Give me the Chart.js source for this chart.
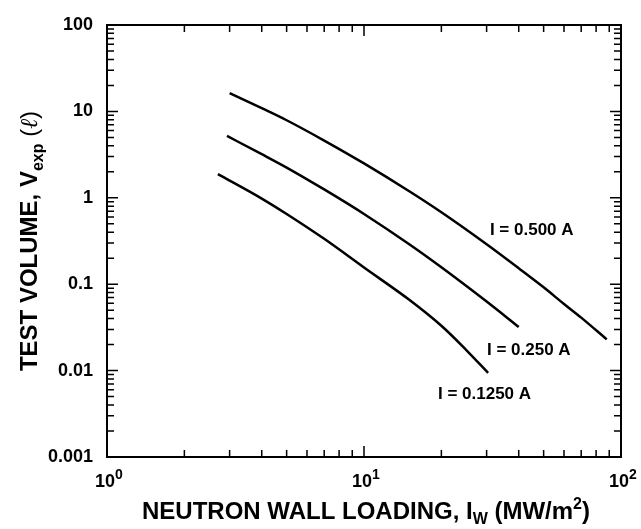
<!DOCTYPE html>
<html>
<head>
<meta charset="utf-8">
<script src="https://cdn.jsdelivr.net/npm/chart.js@4.4.1/dist/chart.umd.min.js"></script>
<style>
  html, body { margin: 0; padding: 0; background: #fff; }
  canvas { display: block; }
</style>
</head>
<body>
<canvas id="chart" width="641" height="529"></canvas>
<script>
// neutron wall loading (MW/m2) vs. test volume (litres), one curve per beam current
const currents = ['I = 0.500 A', 'I = 0.250 A', 'I = 0.1250 A'];

const loading500 = [3, 4, 5, 7, 10, 15, 20, 30, 40, 50, 60, 70, 88];
const volume500 = [16.3, 10.9, 7.9, 4.6, 2.5, 1.19, 0.68, 0.29, 0.153, 0.092, 0.059, 0.041, 0.023];

const loading250 = [2.93, 4, 5, 7, 10, 15, 20, 30, 40];
const volume250 = [5.2, 3.2, 2.24, 1.25, 0.65, 0.29, 0.157, 0.063, 0.032];

const loading125 = [2.7, 4, 5, 7, 10, 15, 20, 25, 30.4];
const volume125 = [1.88, 0.98, 0.65, 0.335, 0.156, 0.066, 0.033, 0.0173, 0.0094];

const xDecades = [0, 1, 2];
const yDecades = [-3, -2, -1, 0, 1, 2];
const yTickLabels = ['0.001', '0.01', '0.1', '1', '10', '100'];

// where each curve's current label sits, in data units (left edge, baseline)
const labelAt = [
    { x: 30.9, y: 0.37 },
    { x: 30.1, y: 0.0152 },
    { x: 19.4, y: 0.0047 }
];

const FONT = '"Liberation Sans", Arial, Helvetica, sans-serif';

function decadeTicks(decades) {
    let ticks = [];
    for (let i = 0; i < decades.length; i++) {
        let base = Math.pow(10, decades[i]);
        let last = i === decades.length - 1 ? 1 : 9;
        for (let m = 1; m <= last; m++) {
            ticks.push({ value: m * base, major: m === 1, decade: i });
        }
    }
    return ticks;
}

function pairs(xs, ys) {
    return xs.map((x, i) => ({ x: x, y: ys[i] }));
}

// draws text made of pieces (normal / sub / sup), left to right from x
function drawPieces(ctx, pieces, x, y) {
    pieces.forEach(p => {
        ctx.font = p.font;
        ctx.fillText(p.text, x, y + (p.dy || 0));
        x += ctx.measureText(p.text).width;
    });
}

function piecesWidth(ctx, pieces) {
    let w = 0;
    pieces.forEach(p => {
        ctx.font = p.font;
        w += ctx.measureText(p.text).width;
    });
    return w;
}

const axesPlugin = {
    id: 'axesPlugin',
    afterDatasetsDraw(chart) {
        const ctx = chart.ctx;
        const area = chart.chartArea;
        const xs = chart.scales.x;
        const ys = chart.scales.y;

        ctx.save();
        ctx.strokeStyle = '#000';
        ctx.fillStyle = '#000';

        // frame
        ctx.lineWidth = 2;
        ctx.strokeRect(area.left, area.top, area.right - area.left, area.bottom - area.top);

        // inward ticks on all four sides
        ctx.lineWidth = 1.5;
        ctx.beginPath();
        xs.ticks.forEach(t => {
            const px = xs.getPixelForValue(t.value);
            const len = t.major ? 11 : 7;
            ctx.moveTo(px, area.bottom);
            ctx.lineTo(px, area.bottom - len);
            ctx.moveTo(px, area.top);
            ctx.lineTo(px, area.top + len);
        });
        ys.ticks.forEach(t => {
            const py = ys.getPixelForValue(t.value);
            const len = t.major ? 11 : 7;
            ctx.moveTo(area.left, py);
            ctx.lineTo(area.left + len, py);
            ctx.moveTo(area.right, py);
            ctx.lineTo(area.right - len, py);
        });
        ctx.stroke();

        // x tick labels as powers of ten
        ctx.textAlign = 'left';
        ctx.textBaseline = 'alphabetic';
        xDecades.forEach(d => {
            const px = xs.getPixelForValue(Math.pow(10, d));
            const pieces = [
                { text: '10', font: 'bold 18px ' + FONT },
                { text: String(d), font: 'bold 14px ' + FONT, dy: -8 }
            ];
            const w = piecesWidth(ctx, pieces);
            drawPieces(ctx, pieces, px - w / 2 + 2, 487);
        });

        // x axis title
        const xTitle = [
            { text: 'NEUTRON WALL LOADING, I', font: 'bold 24px ' + FONT },
            { text: 'W', font: 'bold 16px ' + FONT, dy: 5 },
            { text: ' (MW/m', font: 'bold 24px ' + FONT },
            { text: '2', font: 'bold 16px ' + FONT, dy: -10 },
            { text: ')', font: 'bold 24px ' + FONT }
        ];
        const xw = piecesWidth(ctx, xTitle);
        drawPieces(ctx, xTitle, (area.left + area.right) / 2 - xw / 2 + 2, 519);

        // y axis title, rotated
        const yTitle = [
            { text: 'TEST VOLUME, V', font: 'bold 24px ' + FONT },
            { text: 'exp', font: 'bold 16px ' + FONT, dy: 6 },
            { text: ' (', font: '24px ' + FONT },
            { text: 'ℓ', font: 'italic 24px "DejaVu Serif", serif' },
            { text: ')', font: '24px ' + FONT }
        ];
        const yw = piecesWidth(ctx, yTitle);
        ctx.save();
        ctx.translate(37, (area.top + area.bottom) / 2);
        ctx.rotate(-Math.PI / 2);
        drawPieces(ctx, yTitle, -yw / 2, 0);
        ctx.restore();

        // current labels beside the curves
        ctx.font = 'bold 17px ' + FONT;
        currents.forEach((txt, i) => {
            ctx.fillText(txt, xs.getPixelForValue(labelAt[i].x), ys.getPixelForValue(labelAt[i].y));
        });

        ctx.restore();
    }
};

const lineStyle = {
    borderColor: '#000',
    borderWidth: 2.5,
    pointRadius: 0,
    fill: false,
    cubicInterpolationMode: 'monotone'
};

new Chart(document.getElementById('chart'), {
    type: 'line',
    data: {
        datasets: [
            Object.assign({ label: currents[0], data: pairs(loading500, volume500) }, lineStyle),
            Object.assign({ label: currents[1], data: pairs(loading250, volume250) }, lineStyle),
            Object.assign({ label: currents[2], data: pairs(loading125, volume125) }, lineStyle)
        ]
    },
    options: {
        responsive: false,
        animation: false,
        devicePixelRatio: 1,
        layout: { padding: { left: 0, top: 25, right: 20, bottom: 0 } },
        plugins: {
            legend: { display: false },
            tooltip: { enabled: false }
        },
        scales: {
            x: {
                type: 'logarithmic',
                min: 1,
                max: 100,
                grid: { display: false, drawTicks: false },
                border: { display: false },
                ticks: { display: false },
                afterBuildTicks: scale => { scale.ticks = decadeTicks(xDecades); },
                afterFit: scale => { scale.height = 72; }
            },
            y: {
                type: 'logarithmic',
                min: 0.001,
                max: 100,
                grid: { display: false, drawTicks: false },
                border: { display: false },
                afterBuildTicks: scale => { scale.ticks = decadeTicks(yDecades); },
                afterFit: scale => { scale.width = 107; },
                ticks: {
                    autoSkip: false,
                    padding: 14,
                    color: '#000',
                    font: { family: FONT, size: 18, weight: 'bold' },
                    callback: (value, index, ticks) => {
                        const t = ticks[index];
                        return t && t.major ? yTickLabels[t.decade] : '';
                    }
                }
            }
        }
    },
    plugins: [axesPlugin]
});
</script>
</body>
</html>
